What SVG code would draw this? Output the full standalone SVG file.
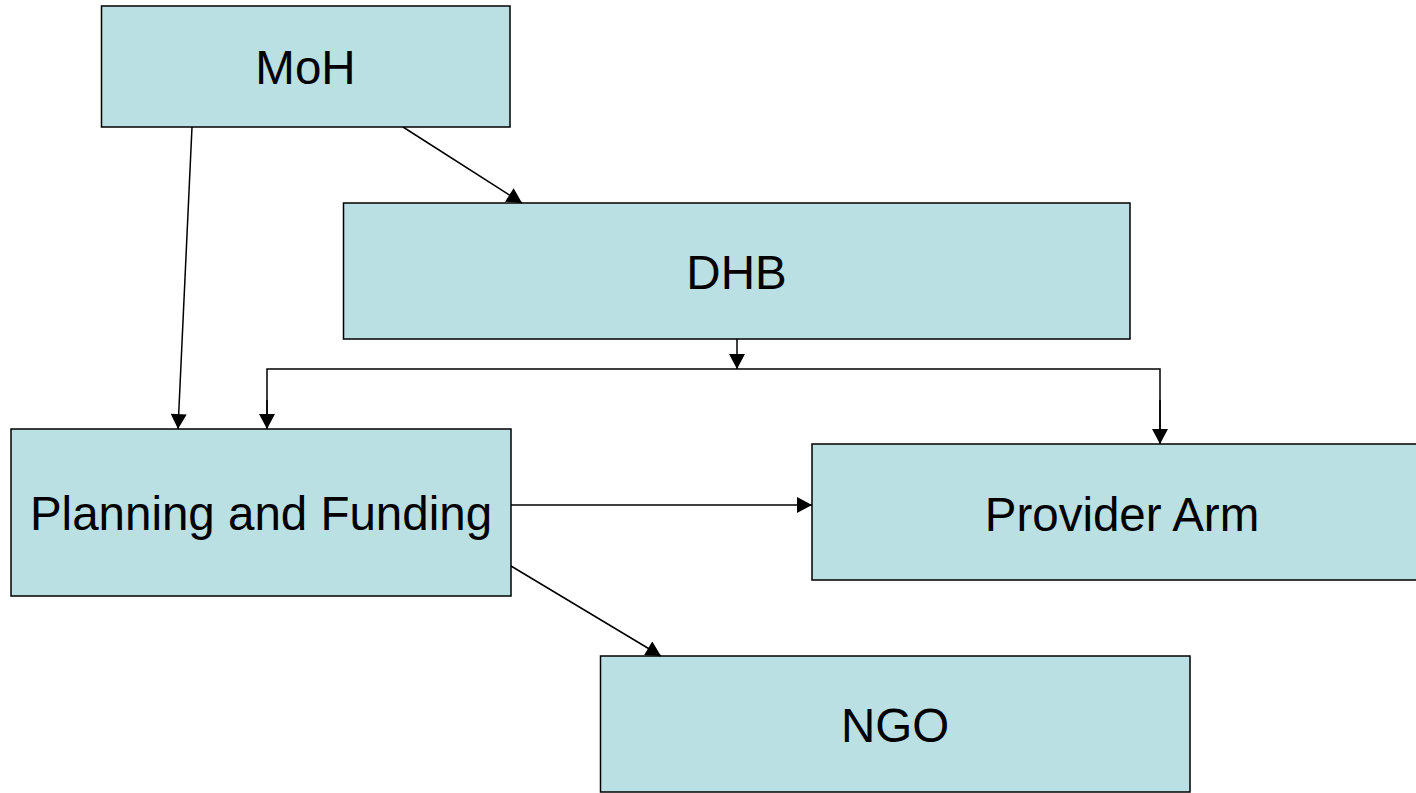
<svg xmlns="http://www.w3.org/2000/svg" width="1416" height="793" viewBox="0 0 1416 793">
<style>
.box{fill:#BBE0E3;stroke:#000;stroke-width:1.5}
.lbl{font-family:"Liberation Sans",Arial,sans-serif;font-size:47.5px;fill:#000;text-anchor:middle}
.con{fill:none;stroke:#000;stroke-width:1.5}
</style>
<defs>
<marker id="arr" markerUnits="userSpaceOnUse" markerWidth="16" markerHeight="16" viewBox="0 0 15 16" refX="15" refY="8" orient="auto">
<path d="M0,0 L15,8 L0,16 z" fill="#000"/>
</marker>
</defs>
<rect width="1416" height="793" fill="#fff"/>
<g id="moh"><rect class="box" x="101.5" y="6" width="408.5" height="121"/><text class="lbl" x="305.5" y="84">MoH</text></g>
<g id="dhb"><rect class="box" x="343.5" y="203" width="786.5" height="136"/><text class="lbl" x="736.5" y="289">DHB</text></g>
<g id="planning"><rect class="box" x="11" y="429" width="500" height="167"/><text class="lbl" x="261" y="530">Planning and Funding</text></g>
<g id="provider"><rect class="box" x="812" y="444" width="606" height="136"/><text class="lbl" x="1122" y="531">Provider Arm</text></g>
<g id="ngo"><rect class="box" x="600.5" y="656" width="589.5" height="136"/><text class="lbl" x="895" y="742">NGO</text></g>
<g id="connectors">
<line class="con" x1="192" y1="127" x2="178" y2="429" marker-end="url(#arr)"/>
<line class="con" x1="403" y1="127" x2="522" y2="203" marker-end="url(#arr)"/>
<line class="con" x1="737" y1="339" x2="737" y2="369" marker-end="url(#arr)"/>
<polyline class="con" points="267,429 267,369 1160,369 1160,444"/>
<line class="con" x1="267" y1="400" x2="267" y2="429" marker-end="url(#arr)"/>
<line class="con" x1="1160" y1="400" x2="1160" y2="444" marker-end="url(#arr)"/>
<line class="con" x1="511" y1="505" x2="812" y2="505" marker-end="url(#arr)"/>
<line class="con" x1="511" y1="566" x2="661" y2="656" marker-end="url(#arr)"/>
</g>
</svg>
